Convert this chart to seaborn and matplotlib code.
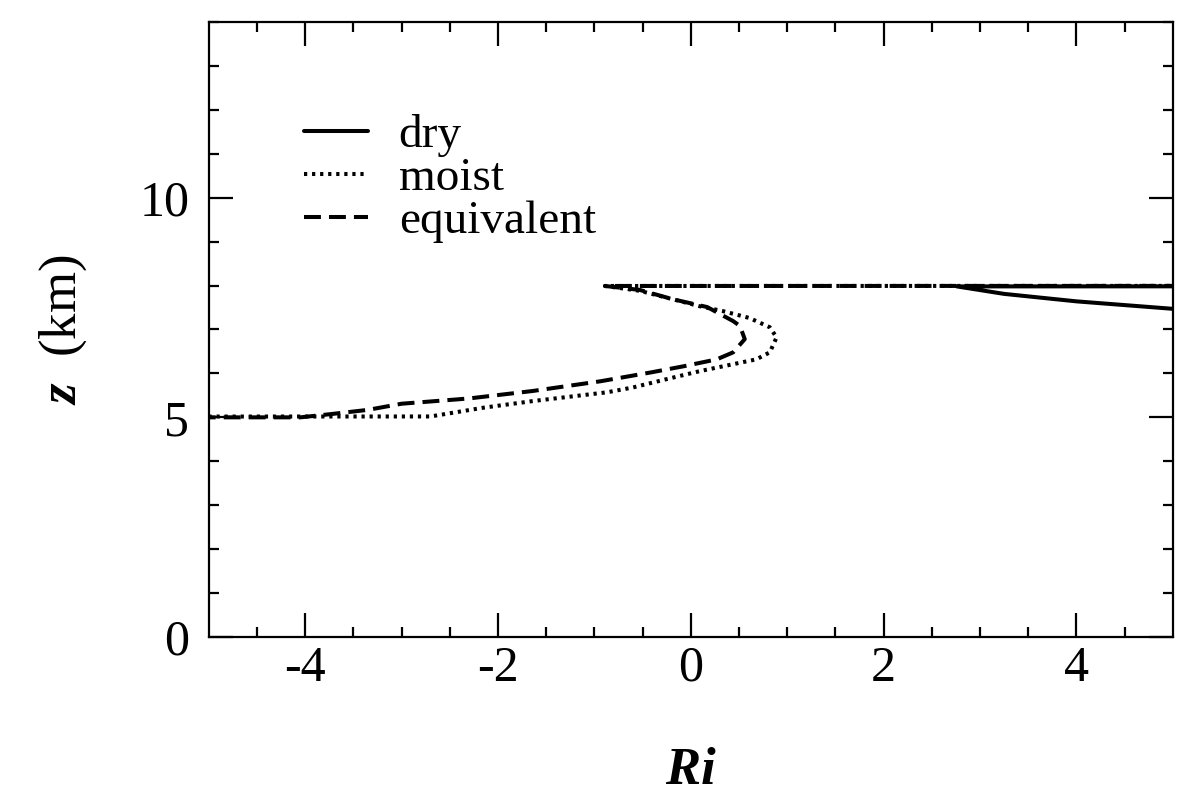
import numpy as np
import matplotlib
matplotlib.use('Agg')
import matplotlib.pyplot as plt
import seaborn as sns

# Richardson number profiles (values beyond +-5 are the jumps off the plot)
dry_ri = [30.0, 2.76, 3.25, 4.0, 5.0, 6.0]
dry_z = [8.0, 7.98, 7.81, 7.64, 7.47, 7.30]

moist_ri = [-30.0, -2.7, -2.15, -1.64, -0.87, -0.6, -0.25, 0.09, 0.44, 0.68, 0.82,
            0.89, 0.82, 0.61, 0.33, 0.09, -0.19, -0.53, -0.89, 30.0]
moist_z = [5.0, 5.02, 5.22, 5.37, 5.57, 5.68, 5.87, 6.05, 6.21, 6.32, 6.48,
           6.82, 7.05, 7.26, 7.42, 7.53, 7.69, 7.88, 7.99, 8.0]

equiv_ri = [-30.0, -4.05, -3.75, -3.35, -3.0, -2.3, -1.64, -0.94, -0.42, -0.08, 0.27,
            0.44, 0.56, 0.51, 0.44, 0.17, -0.19, -0.53, -0.89, 30.0]
equiv_z = [5.0, 5.0, 5.07, 5.17, 5.31, 5.43, 5.60, 5.82, 6.02, 6.16, 6.32,
           6.48, 6.78, 7.08, 7.19, 7.51, 7.69, 7.90, 7.99, 8.0]

sns.set_style('ticks')
plt.rcParams['font.family'] = ['Liberation Serif', 'DejaVu Serif']
plt.rcParams['mathtext.fontset'] = 'custom'
plt.rcParams['mathtext.it'] = 'Liberation Serif:bold:italic'
plt.rcParams['mathtext.rm'] = 'Liberation Serif'
plt.rcParams['text.color'] = 'black'
plt.rcParams['axes.labelcolor'] = 'black'
plt.rcParams['xtick.color'] = 'black'
plt.rcParams['ytick.color'] = 'black'

fig = plt.figure(figsize=(12, 8.11), dpi=100)
ax = fig.add_axes([0.174, 0.2145, 0.8033, 0.7585])

lw = 2.9
sns.lineplot(x=moist_ri, y=moist_z, sort=False, estimator=None, color='black',
             lw=lw, linestyle=(0, (0.8, 1.2)), ax=ax)
sns.lineplot(x=equiv_ri, y=equiv_z, sort=False, estimator=None, color='black',
             lw=lw, linestyle=(0, (4.2, 2.0)), ax=ax)
sns.lineplot(x=dry_ri, y=dry_z, sort=False, estimator=None, color='black',
             lw=lw, linestyle='-', ax=ax)

lines = ax.get_lines()
ax.legend([lines[2], lines[0], lines[1]], ['dry', 'moist', 'equivalent'],
          loc='upper left', bbox_to_anchor=(0.099, 0.85), frameon=False,
          fontsize=34, handlelength=1.35, handletextpad=0.65, labelspacing=0.0,
          borderpad=0, borderaxespad=0)

ax.set_xlim(-5, 5)
ax.set_ylim(0, 14)
ax.set_xticks([-4, -2, 0, 2, 4])
ax.set_xticks(np.arange(-4.5, 5, 0.5), minor=True)
ax.set_yticks([0, 5, 10])
ax.set_yticks(np.arange(0, 15, 1), minor=True)
ax.set_xticklabels(['-4', '-2', '0', '2', '4'])

ax.tick_params(which='both', direction='in', top=True, right=True, width=1.6, color='black')
ax.tick_params(which='major', length=17, labelsize=36)
ax.tick_params(which='minor', length=7.5)
ax.tick_params(axis='x', which='major', pad=6)
ax.tick_params(axis='y', which='major', pad=14)
for s in ax.spines.values():
    s.set_linewidth(1.6)
    s.set_color('black')

ax.set_xlabel(r'$Ri$', fontsize=38, labelpad=40)
ax.set_ylabel(r'$z$  (km)', fontsize=38, labelpad=36)

fig.savefig('out.png', dpi=100, facecolor='white')
